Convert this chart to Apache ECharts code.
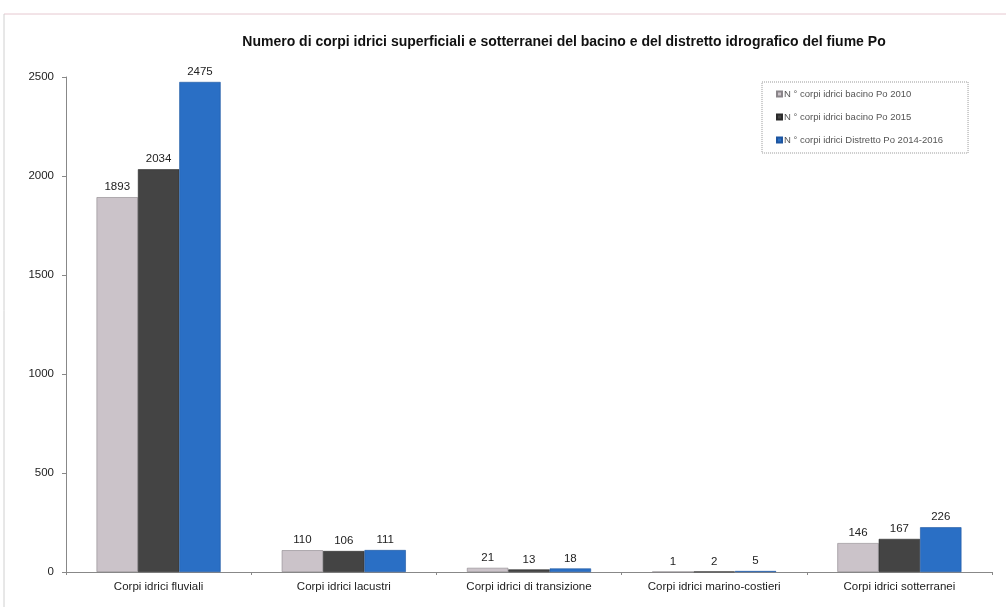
<!DOCTYPE html>
<html><head><meta charset="utf-8">
<script src="https://cdn.jsdelivr.net/npm/echarts@6/dist/echarts.min.js"></script>
<style>html,body{margin:0;padding:0;background:#fff}#c{width:1006px;height:607px}</style>
</head><body><div id="c"></div>
<script>
const categories = ['Corpi idrici fluviali','Corpi idrici lacustri','Corpi idrici di transizione','Corpi idrici marino-costieri','Corpi idrici sotterranei'];
const seriesNames = ['N ° corpi idrici bacino Po 2010','N ° corpi idrici bacino Po 2015','N ° corpi idrici Distretto Po 2014-2016'];
const bacino2010 = [1893,110,21,1,146];
const bacino2015 = [2034,106,13,2,167];
const distretto2014_2016 = [2475,111,18,5,226];
const yTicks = [0,500,1000,1500,2000,2500];
const colors = ['#cbc3c9','#444444','#2a6fc5'];
const borders = ['#8a8589','#2a2a2a','#1d55a0'];
const chart = echarts.init(document.getElementById('c'));
const values = [bacino2010, bacino2015, distretto2014_2016];
chart.setOption({
  animation:false,
  title:{text:'Numero di corpi idrici superficiali e sotterranei del bacino e del distretto idrografico del fiume Po',
    left:559, textAlign:'center', top:30,
    textStyle:{fontFamily:'Liberation Sans', fontSize:14, fontWeight:'bold', color:'#111'}},
  legend:{orient:'vertical', left:762, top:82, itemWidth:5, itemHeight:5, itemGap:13, icon:'rect',
    padding:[7,25,8,14], borderColor:'#999', borderWidth:1, borderType:'dotted',
    data:seriesNames,
    textStyle:{fontFamily:'Liberation Sans', fontSize:9.5, color:'#555', padding:[0,0,0,-3]}},
  grid:{left:66, right:14, top:77, bottom:35},
  xAxis:{type:'category', data:categories,
    axisLine:{lineStyle:{color:'#888'}}, axisTick:{show:true, length:3, lineStyle:{color:'#888'}},
    axisLabel:{fontFamily:'Liberation Sans', fontSize:11.5, color:'#222', margin:9}},
  yAxis:{type:'value', min:yTicks[0], max:yTicks[yTicks.length-1], interval:500,
    axisLine:{show:true, lineStyle:{color:'#888'}}, axisTick:{show:true, length:4, lineStyle:{color:'#888'}},
    splitLine:{show:false},
    axisLabel:{fontFamily:'Liberation Sans', fontSize:11.5, color:'#222', margin:12, formatter:v=>String(v)}},
  series: values.map((v,i)=>({
    name:seriesNames[i], type:'bar', data:v, barGap:'0%', barCategoryGap:'33%',
    itemStyle:{color:colors[i], borderColor:borders[i], borderWidth:0.6},
    label:{show:true, position:'top', distance:4, fontFamily:'Liberation Sans', fontSize:11.5, color:'#222'}
  })),
  graphic:[
    {type:'line', shape:{x1:4,y1:14,x2:1006,y2:14}, style:{stroke:'#e6c8d0', lineWidth:1}},
    {type:'line', shape:{x1:4,y1:14,x2:4,y2:607}, style:{stroke:'#d0d0d0', lineWidth:1}}
  ]
});
</script></body></html>
